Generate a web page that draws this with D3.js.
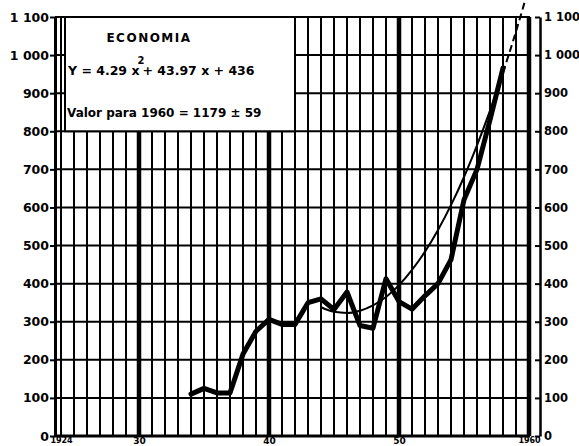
<!DOCTYPE html>
<html>
<head>
<meta charset="utf-8">
<script src="https://cdn.jsdelivr.net/npm/d3@7"></script>
<style>
  html, body { margin: 0; padding: 0; background: #fff; }
  svg { display: block; }
  text { font-family: "DejaVu Sans", sans-serif; font-weight: bold; fill: #000; }
</style>
</head>
<body>
<svg id="chart" width="579" height="446"></svg>
<script>
// ---- data ----
const dataYears = [1934,1935,1936,1937,1938,1939,1940,1941,1942,1943,1944,1945,1946,1947,1948,1949,1950,1951,1952,1953,1954,1955,1956,1957,1958];
const dataValues = [110,125,113,113,215,275,306,293,293,350,360,332,378,290,283,413,353,333,368,400,463,620,700,830,966];

const trendYears = [1944,1945,1946,1947,1948,1949,1950,1951,1952,1953,1954,1955,1956,1957,1958];
const trendValues = [338,326,323,329,343,365,396,436,484,541,606,680,763,854,954];

const projYears = [1958,1959,1960];
const projValues = [954,1062,1179];

const yTicks = [0,100,200,300,400,500,600,700,800,900,1000,1100];
const yTickLabels = ["0","100","200","300","400","500","600","700","800","900","1 000","1 100"];
const xTicks = [1924,1930,1940,1950,1960];
const xTickLabels = ["1924","30","40","50","1960"];

const titleText = "ECONOMIA";
const eqPart1 = "Y = 4.29 x";
const eqSup = "2";
const eqPart2 = "+ 43.97 x + 436";
const noteText = "Valor  para 1960 = 1179 ± 59";

// ---- scales ----
const svg = d3.select("#chart");
const x = d3.scaleLinear().domain([1924, 1960]).range([61, 529]);
const y = d3.scaleLinear().domain([0, 1100]).range([436, 17]);

const allYears = d3.range(1924, 1961);

// vertical grid lines
svg.append("g").selectAll("line").data(allYears).join("line")
  .attr("x1", d => x(d)).attr("x2", d => x(d))
  .attr("y1", y(0)).attr("y2", y(1100))
  .attr("stroke", "#000")
  .attr("stroke-width", d => (d % 10 === 0) ? 4.5 : 2);

// horizontal grid lines
svg.append("g").selectAll("line").data(yTicks).join("line")
  .attr("x1", 55).attr("x2", x(1960) + 1)
  .attr("y1", d => y(d)).attr("y2", d => y(d))
  .attr("stroke", "#000")
  .attr("stroke-width", d => d === 0 ? 3 : 2);

// legend box (white) covering upper-left part of grid
svg.append("rect")
  .attr("x", x(1924) + 4).attr("y", y(1100))
  .attr("width", x(1942) - x(1924) - 4)
  .attr("height", y(800) - y(1100))
  .attr("fill", "#fff").attr("stroke", "#000").attr("stroke-width", 2);

// left axis
const yLabel = d => yTickLabels[yTicks.indexOf(d)];
const leftAxis = svg.append("g").attr("transform", "translate(55,0)")
  .call(d3.axisLeft(y).tickValues(yTicks).tickFormat(yLabel).tickSize(5).tickPadding(1).tickSizeOuter(0));
leftAxis.select(".domain").attr("stroke-width", 3);
leftAxis.selectAll(".tick line").attr("stroke-width", 2);
leftAxis.selectAll("text").style("font-size", "12.5px").attr("font-family", null);

// right axis (bracket with inward ticks)
const rightAxis = svg.append("g").attr("transform", "translate(540,0)")
  .call(d3.axisRight(y).tickValues(yTicks).tickFormat(yLabel).tickSize(-5).tickPadding(4).tickSizeOuter(0));
rightAxis.select(".domain").attr("stroke-width", 2.5);
rightAxis.selectAll(".tick line").attr("stroke-width", 2);
rightAxis.selectAll("text").style("font-size", "11.5px").attr("font-family", null);

// bottom labels
const bottomAxis = svg.append("g").attr("transform", `translate(0,${y(0)})`)
  .call(d3.axisBottom(x).tickValues(xTicks).tickFormat(d => xTickLabels[xTicks.indexOf(d)]).tickSize(0).tickPadding(1.5));
bottomAxis.select(".domain").remove();
bottomAxis.selectAll("text")
  .attr("font-family", null)
  .style("font-size", d => (d === 1924 || d === 1960) ? "8px" : "9px");

// data line
const line = d3.line().x(d => x(d[0])).y(d => y(d[1]));
svg.append("path")
  .datum(dataYears.map((d, i) => [d, dataValues[i]]))
  .attr("d", line)
  .attr("fill", "none").attr("stroke", "#000")
  .attr("stroke-width", 5).attr("stroke-linejoin", "round").attr("stroke-linecap", "round");

// fitted curve
const curve = d3.line().x(d => x(d[0])).y(d => y(d[1])).curve(d3.curveMonotoneX);
svg.append("path")
  .datum(trendYears.map((d, i) => [d, trendValues[i]]))
  .attr("d", curve)
  .attr("fill", "none").attr("stroke", "#000").attr("stroke-width", 2);

svg.append("path")
  .datum(projYears.map((d, i) => [d, projValues[i]]))
  .attr("d", curve)
  .attr("fill", "none").attr("stroke", "#000").attr("stroke-width", 2)
  .attr("stroke-dasharray", "7,4");

// legend texts
svg.append("text").attr("x", 149).attr("y", 42).attr("text-anchor", "middle")
  .style("font-size", "12px").style("letter-spacing", "1.5px").text(titleText);

const eq = svg.append("text").attr("x", 68).attr("y", 75).style("font-size", "12.5px");
eq.append("tspan").text(eqPart1);
eq.append("tspan").attr("dy", -11).attr("dx", -2).style("font-size", "10px").text(eqSup);
eq.append("tspan").attr("dy", 11).attr("dx", -2).text(eqPart2);

svg.append("text").attr("x", 67).attr("y", 117).style("font-size", "12px").text(noteText);
</script>
</body>
</html>
